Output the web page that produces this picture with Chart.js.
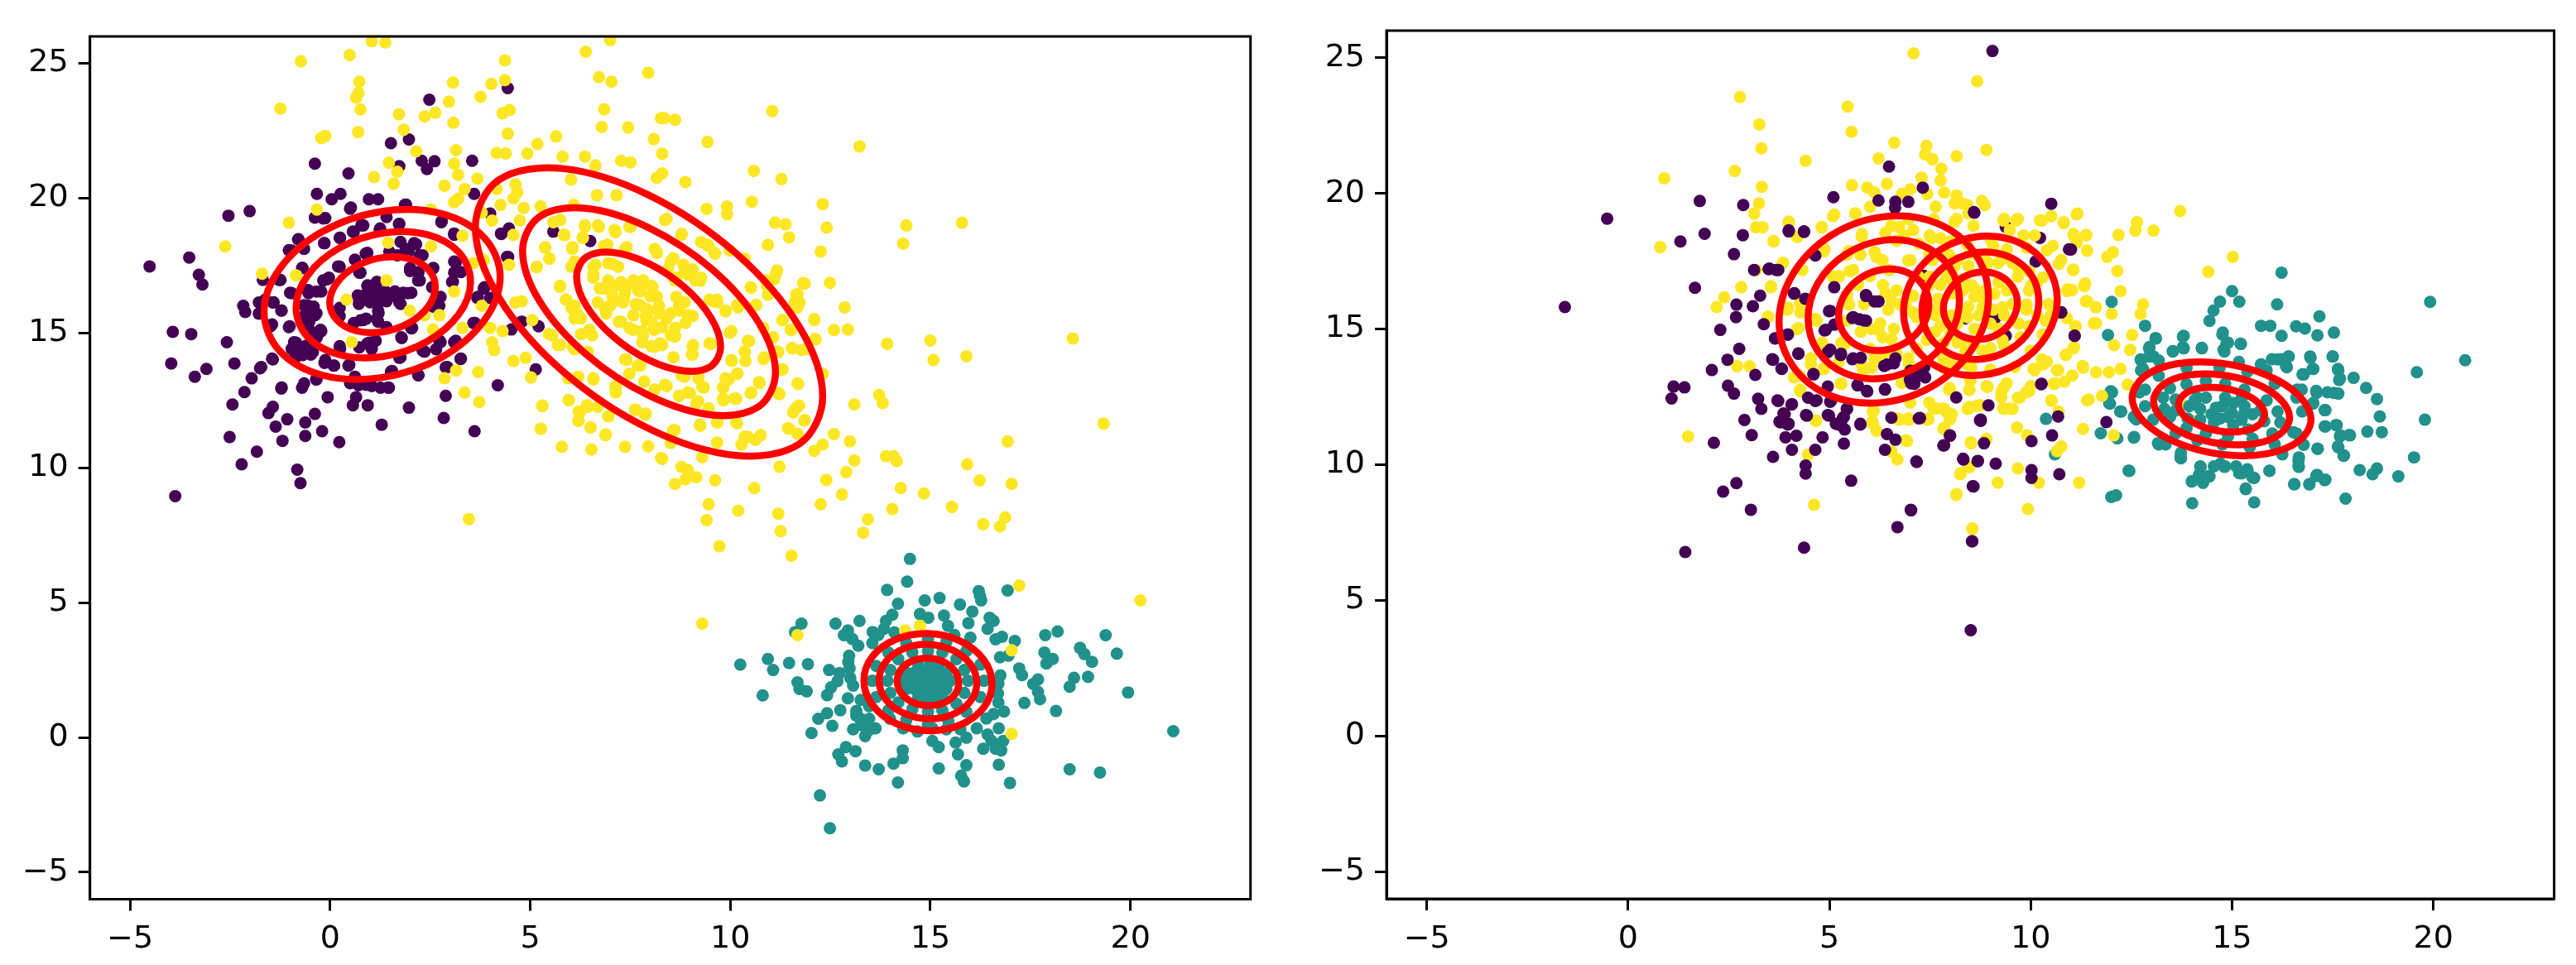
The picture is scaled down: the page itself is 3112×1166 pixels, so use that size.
<!DOCTYPE html>
<html>
<head>
<meta charset="utf-8">
<title>Clusters and fitted contours</title>
<script src="https://cdn.jsdelivr.net/npm/chart.js@4/dist/chart.umd.min.js"></script>
<style>
    html, body { margin: 0; padding: 0; background: #ffffff; }
    canvas { position: absolute; top: 0; }
    #leftChart { left: 0; }
    #rightChart { left: 1560px; }
</style>
</head>
<body>
<canvas id="leftChart" width="1560" height="1166"></canvas>
<canvas id="rightChart" width="1552" height="1166"></canvas>
<script>
// Tick labels, same on both panels
const xTicks = [-5, 0, 5, 10, 15, 20];
const yTicks = [-5, 0, 5, 10, 15, 20, 25];

// Left panel points as [x, y]
const leftPurple = [[-4.51,17.47],[-3.52,17.8],[-3.28,17.16],[-3.19,16.8],[-2.54,19.35],[-2.01,19.52],[-.38,21.28],[.46,20.92],[1.52,22.04],[1.97,22.18],[2.48,23.65],[4.44,24.08],[1.73,21.19],[2.29,21.39],[2.61,21.37],[2.42,21.08],[3.55,21.39],[-.33,20.16],[.04,19.96],[.26,20.16],[.97,19.96],[1.2,19.96],[.5,19.61],[1.87,19.75],[-.38,19.28],[-.12,19.26],[3.6,20.16],[2.78,19.11],[1.73,19.05],[.78,18.99],[.57,18.76],[-.8,18.47],[.25,18.53],[-.15,18.33],[3.1,18.64],[4.28,18.67],[4.47,18.88],[5.58,18.76],[6.5,18.41],[4.42,17.82],[4,19.43],[1.25,18.88],[-.96,18.06],[1.89,18.12],[2.15,18.29],[1.68,17.88],[2.31,17.88],[3.1,17.65],[3.1,17.24],[.2,17.47],[-.7,17.41],[.73,17.24],[.89,17.94],[-1.68,16.97],[-1.28,16.97],[-.06,17],[-.96,16.48],[-.54,16.48],[-.22,16.54],[2,17.3],[2.2,16.95],[3.05,16.89],[3.84,16.65],[3.68,16.3],[4,16.3],[.94,16.77],[1.15,16.83],[.89,16.42],[1.26,16.48],[1.62,16.54],[1.94,16.48],[.73,16.18],[1.1,16.18],[1.41,16.18],[1.73,16.13],[1.2,15.83],[.83,15.48],[1.2,15.42],[2.73,16.01],[-2.17,16.01],[-2.12,15.78],[-1.78,16.13],[-1.78,15.72],[-1.43,16.13],[-1.22,15.83],[-1.49,15.25],[-1.01,15.25],[-.54,16.01],[-.38,15.66],[-.59,15.37],[-.49,15.07],[-.22,15.07],[-.33,14.84],[-3.93,15.04],[-3.47,14.96],[-2.58,14.66],[-3.97,13.87],[-2.39,13.87],[-3.09,13.67],[-3.38,13.38],[-1.75,13.69],[-1.43,14.02],[-1.96,13.32],[-.85,14.64],[-.59,14.53],[-.96,14.41],[-.69,14.18],[-.43,14.29],[-.12,14],[.09,13.79],[.46,13.79],[.25,14.41],[.73,14.47],[.99,14.64],[1.04,14.41],[1.78,14.84],[1.73,14.08],[2.36,14.31],[2.73,14.72],[3.1,14.66],[3.26,14.04],[2.89,13.73],[2.2,13.43],[1.52,13.57],[2.05,15.19],[3.58,15.37],[4.53,15.13],[5.21,15.25],[4.79,15.42],[5.14,13.65],[4.19,13.06],[2.89,12.67],[2.84,11.85],[3.61,11.36],[1.97,12.23],[1.29,11.6],[.94,12.32],[.57,12.32],[.65,12.62],[-.06,12.62],[-1.22,12.94],[-2.14,12.81],[-2.44,12.35],[-.7,12.97],[-.35,13.28],[.5,13.14],[.71,13.06],[1.04,13.03],[1.26,12.97],[1.47,12.97],[-1.43,12.26],[-1.54,12.03],[-.38,12],[-1.07,11.8],[-1.36,11.53],[-.62,11.68],[-.2,11.36],[-.62,11.18],[-1.19,11],[.23,10.95],[-2.51,11.14],[-1.83,10.6],[-2.21,10.13],[-.82,9.93],[-.74,9.43],[-3.87,8.95]];

const leftPurpleDense = [[.93,16.75],[1.17,16.9],[.69,16.39],[.9,16.44],[1.14,16.49],[1.38,16.54],[1.62,16.54],[1.83,16.49],[2.03,16.49],[.72,16.08],[1,16.14],[1.21,16.14],[1.48,16.34],[1.76,16.08],[1.21,15.73],[1.17,15.53],[.76,15.47],[.59,15.37],[.9,15.53],[.24,15.93],[.24,15.63],[.76,17.24],[2,17.41],[2.21,17.26],[2.24,16.95],[2.58,17.41],[2.55,16.7],[-.03,17.05],[-.17,16.95],[.24,17.46],[-.34,16.54],[-.55,16.59],[-.69,17.41],[-1.24,16.97],[-1,16.49],[-1.21,15.83],[-1.41,16.14],[-.65,16.03],[-.41,15.98],[-.62,15.68],[-.34,15.73],[-.52,15.42],[-.24,15.12],[-.41,14.91],[-1.03,15.22],[-1.45,15.32],[-1.62,16.24],[-.9,14.66],[-.69,14.4],[-.48,14.2],[-.86,14.1],[-1.45,14.05],[-1.72,13.74],[-.14,13.89],[.1,13.79],[.48,13.82],[.24,14.51],[.93,14.61],[1.14,14.71],[1.79,14.81],[2.03,15.17],[1.41,15.22],[1.76,14.1],[2.31,14.35],[2.65,14.4],[2.76,14.66],[3.14,14.71],[3.27,14.05],[2.93,13.74],[2.21,13.44],[1.55,13.59],[.62,13.38],[.9,13.08],[.55,13.18],[1.45,12.98],[-.65,13.13],[-.34,13.28],[-1.21,12.98],[3.62,15.37],[3.86,16.7],[3.69,16.34],[2.76,16.34],[2.58,15.98],[3.07,16.9],[3.14,17.61],[3.27,17.26],[2.24,17.87],[1.96,18.02],[2.1,18.33],[1.76,18.38],[1.48,18.02],[.93,17.97],[.62,17.72],[.24,18.53],[-.14,18.33],[-.79,18.48],[-.65,18.12],[-1.03,18.07],[.59,18.74],[.83,18.99],[1.24,18.84],[1.72,19.04],[1.41,19.3],[-.17,19.25],[.52,19.65],[1.9,19.76],[2.79,19.14],[3.1,18.69],[4.27,18.69],[4.45,17.82]];

const leftTeal = [[14.49,6.62],[14.42,5.78],[13.92,5.47],[16.93,5.45],[16.21,5.43],[16.24,5.25],[16.27,5.08],[14.86,5.08],[15.23,5.17],[14.19,4.96],[15.74,4.93],[16.05,4.67],[14.74,4.58],[15.34,4.52],[14.95,4.44],[14.05,4.55],[13.89,4.32],[13.84,4.03],[13.23,4.32],[12.63,4.22],[11.78,4.22],[11.62,3.91],[15.95,4.24],[15.44,4.14],[16.48,4.44],[16.58,4.32],[16.43,4.03],[12.94,3.97],[12.84,3.79],[13.05,3.65],[13.56,3.91],[13.55,3.5],[17.87,3.79],[18.18,3.93],[19.38,3.79],[16.63,3.64],[16.79,3.73],[17.11,3.58],[17.85,3.15],[18.74,3.32],[18.85,3.09],[19.04,2.8],[19.66,3.11],[18.06,2.91],[17.9,2.74],[16.74,2.97],[16.95,3.03],[12.97,3.03],[12.98,2.56],[10.94,2.91],[11.47,2.76],[11.94,2.72],[10.25,2.7],[11.07,2.5],[12.47,2.5],[12.73,2.39],[17.22,2.56],[17.29,2.31],[18.59,2.21],[18.48,1.88],[18.94,2.25],[17.69,2.15],[17.57,1.98],[11.68,2.04],[11.73,1.8],[11.91,1.71],[12.52,1.86],[12.42,1.57],[12.68,2.09],[13.07,1.92],[10.81,1.56],[17.69,1.69],[17.74,1.42],[17.35,1.28],[16.69,1.63],[19.94,1.67],[18.14,.98],[16.84,.96],[16.58,.87],[12.94,1.45],[13.26,1.39],[13.47,1.16],[12.75,1.01],[13.15,.98],[13.26,.69],[12.42,.9],[12.2,.69],[12.55,.43],[12.03,.16],[13.07,.3],[13.47,.28],[13.63,.34],[13.37,.05],[16.16,.34],[16.71,.34],[14.32,.34],[14.68,.22],[16.43,.11],[16.53,-.13],[15.9,-.01],[15.63,-.19],[15.05,-.13],[15.21,-.36],[16.82,-.13],[16.63,-.42],[16.77,-.48],[16.32,-.42],[15.69,-.63],[12.89,-.36],[13.13,-.51],[12.7,-.63],[12.79,-.89],[14.31,-.48],[14.31,-.77],[14.08,-.97],[13.37,-1.04],[13.71,-1.18],[15.21,-1.15],[15.9,-1.03],[16.71,-1.01],[18.48,-1.18],[19.24,-1.3],[15.77,-1.42],[15.84,-1.63],[14.19,-1.67],[16.99,-1.69],[21.07,.23],[12.24,-2.15],[12.49,-3.37]];

const leftTealDense = [[14.7,2.7],[15,2.7],[15.2,2.7],[14.4,2.4],[14.6,2.4],[14.8,2.4],[15,2.4],[15.2,2.4],[15.4,2.4],[14.3,2.1],[14.5,2.1],[14.7,2.1],[14.9,2.1],[15.1,2.1],[15.3,2.1],[15.5,2.1],[14.4,1.8],[14.6,1.8],[14.8,1.8],[15,1.8],[15.2,1.8],[15.4,1.8],[14.7,1.5],[14.9,1.5],[15.1,1.5],[15.3,1.5],[15.94,2.1],[15.85,2.5],[15.65,2.9],[15.3,3.15],[14.94,3.2],[14.55,3.15],[14.2,2.9],[14,2.5],[13.93,2.1],[14,1.65],[14.2,1.3],[14.55,1.05],[14.94,.95],[15.3,1],[15.65,1.25],[15.85,1.65],[16.34,2.1],[16.25,2.7],[15.9,3.2],[15.4,3.55],[14.94,3.65],[14.4,3.5],[13.95,3.15],[13.65,2.65],[13.55,2.1],[13.65,1.5],[13.95,1],[14.4,.65],[14.94,.47],[15.45,.6],[15.9,.95],[16.25,1.5],[13.15,.81],[13.47,.69],[13.26,.46],[13.99,.69],[14.37,.46],[15.05,.34],[15.4,.3],[15.75,.3],[16.7,2],[16.75,2.3],[16.7,1.3],[16.4,.7],[12.95,2.8],[13,2.2],[13.2,3.4],[13.7,3.8],[14.1,3.9],[15.6,3.8],[16,3.7]];

const leftYellow = [[1.04,25.82],[1.38,25.78],[.49,25.31],[-.73,25.08],[7,25.86],[6.39,25.43],[4.37,25.11],[4.37,24.38],[4.03,24.24],[3.07,24.29],[6.72,24.49],[7.03,24.32],[7.95,24.65],[.73,24.32],[.71,23.9],[.65,23.73],[3.76,23.76],[2.97,23.58],[-1.24,23.32],[.76,23.29],[6.85,23.3],[2.63,23.17],[2.36,23.03],[4.31,23.15],[4.49,23.27],[1.72,23.11],[3.08,22.8],[8.27,22.97],[6.79,22.64],[7.45,22.62],[1.84,22.54],[.7,22.45],[4.44,22.39],[-.12,22.31],[-.22,22.23],[5.65,22.29],[8.09,22.19],[5.18,22.01],[2.15,21.74],[3.15,21.78],[4.16,21.68],[4.39,21.66],[4.93,21.66],[6.37,21.54],[5.81,21.54],[7.27,21.39],[7.51,21.33],[6.63,21.22],[1.47,21.31],[3.1,21.28],[1.68,20.98],[3.2,20.87],[1.1,20.78],[3.68,20.73],[6.02,20.69],[1.59,20.54],[8.16,20.75],[2.86,20.46],[3.36,20.34],[4.63,20.51],[4.68,20.22],[4.58,19.99],[4.16,20.34],[3.1,19.85],[3.2,19.98],[6.67,20.11],[7.16,20.11],[-.33,19.58],[-1.03,19.09],[-2.62,18.21],[2.52,19.58],[4.05,19.17],[3.79,19.46],[4.26,19.75],[4.84,19.64],[5.26,19.7],[6.09,19.75],[4.74,19.17],[4.58,18.64],[3.31,18.61],[5.58,19.11],[5.84,18.64],[6.37,18.94],[6.69,18.99],[7.11,18.82],[7.48,18.94],[6.32,18.53],[1.45,18.35],[2.52,18.21],[5.37,18.17],[5.48,17.76],[6.05,18.12],[6.11,17.65],[5.16,17.44],[6.85,18.23],[7.37,18.12],[8.11,18.12],[-1.7,17.2],[-.85,17.14],[3.58,17.59],[3.84,17.71],[4.47,17.53],[6.63,17.53],[6.95,17.59],[6.58,17.18],[6.95,16.95],[7.27,16.89],[7.58,16.95],[7.8,16.83],[8.06,16.71],[6.74,16.65],[7.06,16.36],[7.37,16.48],[7.69,16.59],[8,16.36],[8.22,16.01],[6.69,16.13],[7,16.01],[7.32,16.13],[7.64,16.07],[7.9,15.89],[6.9,15.72],[7.22,15.42],[7.58,15.66],[7.9,15.48],[8.16,15.19],[7.8,15.07],[7.48,15.19],[7.8,14.66],[8.11,14.49],[7.37,14.02],[7.69,13.79],[7.48,13.49],[7.85,13.2],[8.11,12.91],[5.74,16.71],[5.9,16.24],[6.11,16.01],[6.27,15.54],[6.48,15.07],[6.11,15.54],[5.47,14.96],[5.69,14.55],[6.27,14.96],[6.11,14.4],[4.63,16.13],[4.79,16.18],[3.79,16.01],[3.1,16.54],[.41,16.24],[1.41,16.95],[1.99,15.83],[2.36,15.66],[2.73,15.66],[2.57,15.13],[3.31,15.19],[4,15.19],[4.31,15.07],[.54,14.66],[4.05,14.66],[4.1,14.37],[5.05,15.48],[4.89,14.08],[4.58,13.96],[3.15,13.61],[2.86,13.32],[3.7,13.55],[5.02,13.35],[3.36,12.79],[3.73,12.44],[5.95,13.32],[6.58,13.32],[7.14,13.03],[7.14,12.79],[5.97,12.5],[5.3,12.29],[6.42,12.32],[6.21,12.09],[6.21,11.74],[6.51,11.5],[6.95,11.91],[7.64,12.15],[7.87,11.97],[5.26,11.45],[6.88,11.21],[5.79,10.78],[6.53,10.68],[7.37,10.78],[7.95,10.8],[8.27,10.36],[3.47,8.1],[8.35,22.97],[8.62,22.91],[11.05,23.23],[9.43,22.09],[13.23,21.92],[8.3,21.65],[10.59,21.01],[11.28,20.71],[8.88,20.6],[8.3,20.92],[10.54,19.87],[12.31,19.78],[9.41,19.6],[9.92,19.69],[9.92,19.4],[8.41,19.23],[11.12,19.09],[11.38,19.03],[14.4,18.99],[15.79,19.09],[12.41,18.91],[11.47,18.55],[8.78,18.64],[9.27,18.37],[9.46,18.23],[9.62,17.94],[10.94,18.27],[14.32,18.31],[12.26,18.02],[9.99,18.06],[10.36,17.76],[8.51,17.65],[8.94,17.17],[9.25,16.94],[8.83,17.53],[8.62,16.95],[11.17,17.32],[11.86,16.83],[12.49,16.86],[10.89,16.95],[11.1,17],[10.52,16.68],[11.65,16.44],[10.94,16.42],[9.57,16.19],[9.67,16.24],[11.73,16.13],[11.68,15.95],[12.86,15.95],[10.64,16.03],[9.88,15.8],[10.2,15.95],[11.31,15.48],[12.1,15.48],[12.59,15.11],[12.94,15.13],[11.52,15.11],[8.72,16.01],[8.94,15.66],[8.41,15.54],[8.62,15.19],[8.88,15.37],[9.99,15.01],[10.83,15.19],[11.07,14.84],[12.12,14.78],[10.47,14.7],[8.62,14.87],[9.07,14.55],[9.52,14.6],[8.3,14.55],[13.92,14.6],[15,14.72],[18.56,14.8],[11.55,14.43],[11.78,14.37],[11.17,14.31],[10.36,14.31],[10.83,14.04],[15.08,14],[15.9,14.14],[9.04,14.2],[10.04,13.96],[10.38,13.96],[11.31,13.65],[12.31,13.49],[10.18,13.49],[9.88,13.32],[8.78,13.43],[9.2,13.32],[11.7,13.11],[9.3,13],[8.41,13.03],[10.73,13.14],[9.83,12.97],[10.52,12.79],[13.72,12.7],[13.81,12.4],[8.72,12.67],[8.94,12.79],[11.23,12.73],[13.1,12.35],[9.83,12.5],[10.15,12.56],[9.15,12.38],[9.46,12.21],[11.68,12.26],[11.57,12.05],[11.86,11.77],[9.67,11.68],[10.15,11.68],[9.25,11.56],[19.33,11.64],[11.44,11.47],[8.57,11.39],[10.76,11.21],[10.36,11.15],[10.63,11.04],[12.59,11.25],[11.68,11.27],[12.99,10.98],[16.93,10.98],[9.67,10.94],[8.51,10.92],[12.31,10.86],[12.1,10.63],[10.28,10.86],[8.3,10.33],[9.3,10.39],[13.89,10.43],[14.08,10.43],[14.16,10.25],[13.1,10.27],[15.92,10.13],[11.23,10.04],[12.9,9.84],[8.78,10.04],[8.94,9.92],[8.62,9.4],[8.88,9.57],[9.15,9.65],[9.62,9.54],[10.6,9.25],[12.4,9.55],[16.23,9.53],[17.03,9.4],[14.26,9.25],[14.84,9.05],[12.79,9.01],[9.46,8.65],[9.41,8.06],[10.2,8.41],[11.2,8.3],[12.26,8.65],[14.05,8.47],[13.44,8.09],[15.54,8.55],[16.32,7.91],[16.74,7.83],[16.87,8.16],[11.26,7.65],[13.32,7.59],[9.73,7.09],[11.53,6.74],[17.22,5.63],[20.25,5.08],[9.3,4.22],[11.68,3.79],[17.03,3.23],[17.03,.13],[14.74,4.14],[14.37,3.97]];

const leftYellowDense = [[6.58,17.46],[6.58,17.05],[7.06,17.56],[7.2,17.46],[6.86,16.65],[7.13,16.75],[7.41,16.75],[7.82,16.95],[7.75,16.54],[8.03,16.75],[8.17,16.34],[7.06,16.14],[6.86,15.93],[7.34,16.24],[6.17,15.73],[6.03,15.93],[5.89,16.24],[5.75,16.75],[7.75,16.03],[7.96,15.83],[8.24,15.73],[8.51,15.73],[8.72,15.83],[8.86,16.14],[8.65,16.34],[9.06,15.63],[8.3,15.22],[8.03,15.42],[7.89,15.63],[7.27,15.42],[7.58,15.12],[7.82,14.91],[8.1,15.12],[8.51,14.91],[8.24,14.61],[8.03,14.51],[9.06,14.51],[9.48,14.61],[9.06,14.2],[8.58,14.1],[7.41,14],[7.75,13.79],[8.86,13.38],[8.37,13.08],[9.2,13.38],[9.34,12.98],[8.72,12.67],[8.99,12.77],[9.2,12.47],[9.82,12.98],[9.96,13.28],[10.17,13.49],[9.82,12.57],[10.1,12.57],[10.51,12.77],[10.72,13.18],[10.03,14],[10.44,14.71],[10.37,14.3],[10.85,14.1],[11.27,13.64],[11.68,13.13],[11.2,12.77],[10.03,15.07],[9.48,16.24],[9.68,16.14],[9.89,15.83],[10.17,16.03],[10.65,16.03],[10.51,16.7],[10.92,16.75],[11.13,17.16],[8.58,17.77],[8.17,17.97],[8.79,18.68],[8.44,17.36],[8.86,17.26],[9.13,16.95],[9.27,17.05],[8.65,17.05],[9.06,17.36],[9.41,18.28],[9.61,17.97],[7.41,18.18],[6.93,18.28],[6.06,18.18],[5.38,18.18],[5.48,17.77],[5.17,17.46],[6.03,17.46],[5.75,19.19],[6.37,18.99],[6.72,18.94],[7.13,18.74],[7.51,18.94],[8.37,19.19],[5.86,18.63],[6.31,18.53],[7.13,12.98],[6.58,13.28],[6.2,13.38],[5.96,12.52],[5.31,12.31],[6.44,12.26],[6.24,12.06],[6.69,12.26],[7.62,12.16],[7.89,12.01],[6.96,11.91],[6.51,11.5],[6.2,11.75],[5.27,11.45],[6.89,11.24],[9.24,11.6],[9.68,11.7],[10.17,11.65],[8.61,11.4],[10.44,11.14],[11.47,11.45],[11.85,11.75],[11.61,12.16],[11.72,12.31],[12.13,14.76],[12.1,15.52],[11.51,15.12],[11.3,15.47],[11.54,14.45],[11.2,14.3],[11.89,14.4],[11.61,16.14],[11.68,16.44],[11.82,16.85],[6.48,15.12],[6.55,14.91],[5.55,14.91],[5.75,14.56],[6.06,14.51],[6.44,14.3]];

// Right panel points
const rightPurpleUnder = [[8.74,16.23],[9.11,15.39],[8.37,15.39],[9.38,14.75],[10.12,17.49],[10.23,18.36],[9.38,18.77],[7.35,16.96]];

const rightYellowUnder = [[13.77,12.22],[14.04,11.61]];

const rightTeal = [[16.23,17.08],[15,16.4],[14.7,16.01],[15.18,16.01],[16.12,15.91],[19.92,16],[14.54,15.68],[14.44,15.3],[12.01,16],[17.17,15.47],[15.72,15.12],[15.95,15.12],[16.59,15.1],[16.81,15.02],[12.84,15.12],[17.53,14.87],[17.12,14.77],[16.23,14.75],[14.77,14.87],[11.92,14.78],[13.78,14.72],[13.1,14.67],[15.21,14.46],[14.86,14.46],[14.81,14.17],[12.95,14.34],[13.78,14.34],[13.53,14.17],[14.25,14.31],[13.05,13.99],[12.73,13.88],[12.79,13.53],[20.79,13.85],[16.14,13.88],[16.41,13.99],[16.94,13.99],[17.5,13.99],[16.36,13.59],[17,13.53],[16.78,13.33],[15.72,13.7],[19.59,13.41],[17.63,13.53],[17.66,13.12],[18.02,13.2],[18.33,12.83],[18.6,12.42],[17.1,12.65],[17.53,12.65],[16.73,12.77],[17,12.25],[17.32,12.01],[18.67,11.78],[19.79,11.66],[11.99,12.71],[11.97,12.25],[12.25,11.96],[12.62,11.67],[11.74,11.16],[12.15,10.97],[10.38,11.69],[12.57,11.02],[10.6,10.38],[17.32,11.41],[17.58,11.46],[17.69,11.08],[17.93,11.08],[18.36,11.22],[18.72,11.2],[16.52,11.2],[17.12,10.59],[17.63,10.68],[17.77,10.33],[19.52,10.27],[16.66,10.27],[16.66,9.92],[18.17,9.8],[18.6,9.86],[18.49,9.65],[19.13,9.57],[15.93,9.77],[17.11,9.63],[17.32,9.45],[16.55,9.28],[16.92,9.28],[17.82,8.75],[15.55,8.61],[15.34,9.1],[14.01,8.58],[12,8.81],[12.45,9.77],[13.16,10.79],[13.72,10.27],[14.22,9.92],[14.22,9.45],[14.44,9.57],[14.01,9.4],[14.71,10.04],[14.81,9.92],[15.18,9.69],[15.39,9.74],[15.55,9.51],[16.25,10.38],[16.78,10.73]];

const rightTealDense = [[14.07,12.37],[14.35,12.47],[13.94,12.16],[14.21,12.06],[14.49,11.86],[14.76,12.16],[15.03,12.27],[15.31,12.16],[15.51,11.86],[15.24,11.66],[14.9,11.76],[14.55,11.56],[15.03,11.46],[14.21,11.66],[14.14,12.47],[14.83,12.47],[15.24,12.47],[14.6,12.1],[15,11.9],[15.3,11.9],[14.7,11.7],[13.29,12.47],[13.46,12.82],[13.87,12.97],[14.35,13.08],[14.83,12.98],[15.31,12.77],[15.86,12.37],[16.13,11.96],[16.2,11.56],[16,11.15],[15.51,10.95],[14.9,11.05],[14.35,11.15],[13.87,11.35],[13.46,11.76],[13.32,12.06],[13.6,12.4],[13.6,12],[13.9,11.7],[15.7,12],[15.8,11.6],[15.4,11.3],[12.84,12.77],[13.18,13.28],[13.87,13.58],[14.69,13.58],[15.38,13.43],[16.06,12.98],[16.6,12.47],[16.74,11.96],[16.6,11.15],[16.06,10.75],[15.44,10.65],[14.76,10.75],[14.14,10.9],[13.6,11.15],[13.04,11.66],[12.84,12.16],[12.7,12.67],[12.74,13.84],[12.94,14.29],[13.11,14.65],[13.53,14.19],[13.8,14.29],[13.8,14.75],[14.25,14.29],[14.79,14.24],[14.9,14.5],[15.22,14.45],[12.74,13.48],[12.94,13.99],[13.18,13.84],[14.76,14.8],[15.99,13.89],[16.23,13.89],[16.4,13.99],[16.34,13.64],[15.86,13.48],[15.17,13.79],[15.72,13.69],[16.95,13.94],[17.02,13.53],[16.75,13.33],[17.5,13.99],[17.64,13.48],[17.68,13.18],[17.09,12.72],[17.37,12.67],[17.64,12.62],[17.3,12.01],[17.02,12.27],[16.61,12.77],[17.3,11.41],[17.6,11.46],[17.68,11.05],[17.91,11.1],[17.64,10.64],[17.78,10.34],[17.13,10.59],[16.65,10.14],[16.65,9.94],[17.09,9.58],[17.3,9.43],[16.92,9.28],[16.54,9.28],[15.93,9.78],[15.34,9.12],[15.51,9.53],[15.24,9.68],[15.38,9.83],[15.1,9.94],[14.83,9.94],[14.55,9.94],[14.21,9.94],[14.18,9.63],[14.42,9.58],[14,9.38],[14.28,9.33],[13.73,10.24],[13.73,10.44],[13.18,10.75],[13.35,10.75],[12.56,11],[12.43,9.78],[12.12,8.87],[12.02,12.67],[11.95,12.27],[12.22,11.96],[12.56,11.76]];

const rightYellow = [[7.09,25.16],[8.67,24.13],[2.78,23.55],[5.45,23.2],[3.26,22.54],[5.55,22.27],[3.31,21.66],[6.61,21.87],[7.41,21.75],[7.38,21.43],[7.56,21.26],[8.16,21.37],[8.9,21.6],[6.22,21.29],[4.41,21.2],[2.65,20.83],[.9,20.56],[7.78,20.91],[7.76,20.48],[7.29,20.58],[5.56,20.3],[3.32,20.24],[5.94,20.21],[6.12,20.03],[6.43,20.35],[6.8,19.98],[7.01,20.15],[7.43,19.98],[7.85,20.03],[8.16,19.92],[8.79,19.72],[6.01,19.51],[7.64,19.51],[8.11,19.63],[8.43,19.57],[3.25,19.63],[3.13,19.26],[5.12,19.22],[5.65,19.26],[3.99,18.93],[3.18,18.75],[3.34,18.75],[4.81,18.75],[6.54,18.81],[6.96,19.05],[7.59,19.05],[8.16,19.05],[8.58,18.81],[4.21,18.41],[3.62,18.23],[.8,18.02],[5.8,18.41],[5.49,17.88],[6.17,17.65],[6.85,18.46],[7.53,18.35],[8.01,18.23],[8.43,18.11],[4.86,17.86],[3.84,17.42],[3.18,17.18],[4.33,17.18],[5.23,16.95],[5.59,17.18],[6.01,16.95],[6.48,17.18],[6.96,17.53],[7.48,17.76],[3.55,16.54],[2.81,16.54],[2.39,16.17],[2.2,15.81],[3.47,15.44],[3.97,15.79],[4.28,15.61],[4.23,15.03],[4.65,15.38],[5.44,16.27],[5.86,15.92],[6.33,16.62],[6.54,16.04],[5.49,15.9],[6.22,14.97],[6.54,14.62],[6.9,15.9],[7.17,15.44],[7.48,16.62],[7.9,16.85],[8.22,16.27],[8.53,16.62],[8.79,16.15],[7.69,15.79],[8.01,15.32],[8.43,15.44],[8.69,14.97],[7.48,14.85],[7.85,14.5],[8.32,14.62],[4.81,14.45],[5.38,14.45],[6.01,14.27],[6.54,14.16],[6.96,13.92],[4.54,13.92],[4.86,13.52],[5.8,13.69],[6.12,13.92],[7.17,14.27],[7.9,13.92],[8.43,13.69],[7.85,13.57],[2.71,13.63],[3.02,13.63],[4.12,13.22],[4.28,12.7],[5.28,12.99],[6.8,13.02],[7.99,12.82],[8.48,12.76],[7.01,12.29],[7.48,12.29],[7.85,12.06],[8.01,11.71],[8.43,12.06],[8.74,12.18],[6.1,12],[6.07,11.59],[6.17,11.25],[6.69,11.71],[6.96,11.71],[7.43,11.69],[4.67,11.63],[7.85,11.36],[1.49,11.04],[6.9,10.9],[8.51,10.82],[8.9,10.95],[6.54,10.49],[6.69,10.2],[4.47,10.37],[8.48,9.91],[8.25,9.65],[8.16,8.92],[4.62,8.52],[8.55,7.64],[13.71,19.35],[11.14,19.23],[12.64,18.94],[12.6,18.63],[13.05,18.63],[12.18,18.47],[11.38,18.47],[10.82,18.94],[10.28,19],[9.64,19],[9.32,19],[11.08,18.42],[11.14,18.19],[10.55,18.07],[11.4,17.89],[12.04,17.83],[11.9,17.66],[15.02,17.66],[14.41,17.11],[10.76,17.55],[11.05,17.19],[12.15,17.14],[11.35,16.68],[11.03,16.44],[12.23,16.4],[11.4,16.03],[11.62,15.8],[12.79,15.91],[12.73,15.56],[12.01,15.56],[11.62,15.21],[11.11,15.1],[12.52,14.78],[12.07,14.4],[12.47,14.23],[11.08,14.34],[10.87,14.05],[10.28,13.88],[10.07,13.53],[11.29,13.64],[11.62,13.41],[11.94,13.41],[12.23,13.53],[10.68,13.49],[11.03,13.29],[10.84,13.06],[12.41,12.95],[10.6,13],[9.96,12.71],[9.73,12.48],[9.32,12.83],[9.27,12.48],[11.44,12.4],[11.77,12.54],[10.52,12.36],[9.32,12.07],[9.48,12.07],[8.47,12.13],[8.74,12.19],[7.99,12.76],[8.47,12.76],[8.9,12.89],[10.69,11.96],[7.67,12.07],[7.94,11.9],[7.99,11.67],[7.46,11.67],[7.83,11.32],[11.3,11.32],[9.66,11.37],[9.91,11.08],[12.06,11.08],[6.93,10.87],[8.52,10.79],[8.9,10.94],[10.76,10.67],[10.65,10.5],[8.45,9.92],[8.26,9.69],[9.68,9.86],[9.18,9.34],[10.2,9.34],[11.2,9.34],[8.15,8.89],[9.93,8.37],[8.55,7.65]];

const rightYellowDense = [[8.9,17.5],[9.3,17.6],[9.7,17.2],[10,16.6],[9.9,15.9],[9.7,15.2],[9.3,14.6],[8.8,14.2],[8.4,14.2],[8,14.8],[8.3,15.5],[8.6,16.2],[8.8,15.8],[9.1,16.3],[9.3,15.8],[9,15.2],[8.6,15],[8.4,16.6],[8.1,17.3],[8.5,17.8],[9,18.3],[9.9,18],[10.4,17.9],[10.3,16.9],[10.5,15.5],[10.3,14.8],[10,14.2],[9.6,13.6],[9,13.5],[8.5,13.1],[9.4,13],[10,12.9],[10.4,13.8],[10.9,15.4],[10.9,16.4],[10.7,17.4],[5.43,16.12],[5.71,16.63],[5.43,15.31],[6.12,16.02],[6.39,16.32],[6.67,16.42],[6.46,15.71],[6.74,15.92],[6.26,15.21],[6.6,15],[6.32,14.7],[5.78,14.9],[6.05,15],[5.23,16.93],[5.5,17.13],[5.77,17.74],[6.12,17.84],[6.32,17.54],[5.43,17.74],[7.01,17.54],[6.67,18.25],[6.39,18.55],[6.73,18.76],[7.08,18.65],[7.49,18.45],[7.76,18.35],[7.22,18.15],[5.09,16.93],[4.88,17.94],[5.81,18.5],[3.99,18.96],[4.81,18.76],[5.09,19.16],[5.64,19.26],[4.2,18.4],[3.61,18.25],[3.85,17.44],[3.55,16.58],[4.27,15.96],[3.96,15.71],[3.48,15.46],[4.2,15],[4.68,15.31],[4.82,14.5],[5.3,14.5],[5.23,13.79],[4.54,13.69],[4.27,13.28],[4.85,13.53],[5.3,12.98],[4.27,12.77],[6.05,13.58],[5.84,13.48],[6.32,13.89],[6.67,14.09],[6.98,13.69],[6.8,13.03],[7.42,14.6],[7.76,14.4],[8.18,14.5],[8.38,14.19],[7.83,13.89],[8.04,13.69],[8.52,13.58],[7.08,16.22],[7.08,15.61],[7.49,16.93],[7.76,16.63],[7.7,16.12],[7.63,15.51],[7.76,15.11],[7.63,14.9],[7.35,15.41],[7.9,17.13],[8.18,17.54],[8.45,17.34],[8.66,17.74],[8.93,17.44],[9.2,17.44],[9.55,17.44],[9.41,17.94],[9.07,18.05],[9.68,16.93],[9.96,16.42],[10.16,16.73],[9.96,17.13],[9.89,15.71],[10.16,15.51],[10.44,15.92],[10.37,15.31],[9.96,15.11],[9.75,14.7],[9.34,14.4],[9,14.29],[8.59,14.5],[8.18,15.21],[8.31,16.42],[8.59,16.52],[8.86,16.42],[9.2,16.73],[9.41,16.42],[8.45,15.82],[8.72,15.51],[9.07,15.71],[9.34,15.51],[9.55,15.92],[8.31,16.83],[7.97,17.74],[7.56,17.54],[7.22,16.93],[8.04,16.32],[8.04,15.51],[9.2,15],[8.45,19.26],[8.11,18.96],[8.31,19.62],[8.86,19.57],[9.34,19.06],[9.68,19.06],[9.48,18.65],[10.23,19.01],[10.51,19.16],[10.82,18.91],[9.82,18.45],[10.1,18.45],[11.16,19.26],[11.06,18.5],[11.37,18.45],[11.06,17.18],[10.92,16.47],[11.33,16.58],[11.37,16.02],[11.57,15.21],[11.12,15.1],[11.06,14.29],[10.88,14.04],[10.3,13.69],[10.1,13.48],[10.65,13.48],[11.3,13.58],[10.57,12.98],[11.4,12.37],[10.51,12.37],[9.89,12.67],[9.68,12.47],[9.27,12.67],[8.93,12.87],[9.34,12.06],[9.55,12.06],[7.83,12.06],[8.04,11.86],[8.45,12.06],[8.66,12.17],[7.42,11.66],[6.74,11.66],[6.97,11.66],[6.08,11.96],[6.08,11.51],[4.67,11.61],[7.97,12.77],[7.59,12.06]];

const rightPurple = [[-1.57,15.81],[-.52,19.07],[1.78,19.72],[2.86,19.57],[1.9,18.51],[1.3,18.23],[2.85,18.46],[3.99,18.64],[4.37,18.58],[2.63,17.76],[3.13,17.18],[3.49,17.21],[3.73,17.18],[1.66,16.52],[4.65,17.71],[6.48,20.99],[5.1,19.86],[6.22,19.74],[6.64,19.69],[6.96,19.69],[7.32,20.21],[5.12,16.54],[4.12,16.31],[3.28,16.23],[2.69,15.9],[3.1,15.84],[2.68,15.44],[3.37,15.18],[2.29,14.97],[3.97,14.8],[3.65,14.66],[2.76,14.27],[4.23,14.1],[3.6,13.87],[3.81,13.54],[2.47,13.87],[2.08,13.49],[3.16,13.31],[5.02,15.67],[4.91,14.97],[5.59,15.44],[5.86,15.32],[5.91,16.25],[6.22,16.02],[4.96,14.15],[5.28,14.04],[5.59,13.92],[6.64,13.92],[6.43,13.69],[7.27,13.46],[7.11,13.17],[7.38,13.22],[7.01,13.46],[4.6,13.34],[4.96,12.88],[1.13,12.88],[1.4,12.85],[1.08,12.44],[2.48,12.91],[2.63,12.62],[3.23,12.43],[3.31,12.06],[3.73,12.35],[4.07,12.23],[4.65,12.35],[5.04,12.35],[5.7,12.93],[5.94,12.7],[6.38,12.78],[2.89,11.65],[3.07,11.09],[3.86,11.89],[3.76,11.59],[3.97,11.48],[4.42,11.83],[4.96,11.83],[5.44,12.06],[5.33,11.71],[5.23,11.48],[5.38,11.3],[5.77,11.48],[6.54,11.73],[7.22,11.71],[8.76,11.62],[2.13,10.81],[3.91,11.01],[4.18,11.07],[4.83,11.01],[5.36,10.78],[6.43,11.13],[6.64,10.92],[4.07,10.55],[4.65,10.55],[6.38,10.55],[7.85,10.72],[8,11.07],[3.6,10.29],[7.17,10.1],[8.32,10.22],[8.69,10.14],[4.41,9.97],[4.41,9.67],[5.54,9.41],[2.69,9.32],[2.36,9.01],[8.56,9.21],[3.05,8.34],[1.42,6.78],[4.37,6.94],[7.02,8.34],[6.69,7.7],[8.54,7.18],[8.51,3.9],[9.05,25.25],[8.6,19.29],[11,17.93],[10.76,15.62],[11.09,14.75],[10.26,12.97],[7.19,13.29],[7.03,13],[7.35,13.59],[8.15,12.48],[8.95,12.19],[8.74,11.64],[7.25,11.72],[10.68,11.78],[11.88,11.57],[7.99,11.08],[10.02,10.87],[10.53,11.08],[7.83,10.71],[8.84,10.79],[8.33,10.19],[8.68,10.13],[9.13,10.04],[7.16,10.12],[10.02,9.8],[10.02,9.51],[10.71,9.65],[8.58,9.2],[7.03,8.32],[8.55,7.18]];

const rightPurpleDense = [[3.51,17.23],[3.68,17.18],[3.99,18.6],[4.37,18.6],[4.13,16.32],[4.4,16.12],[4.99,15.66],[5.74,15.36],[5.57,15.41],[5.91,15.31],[5.91,16.22],[6.12,16.02],[4.88,14.95],[5.12,15.16],[3.65,14.65],[3.96,14.8],[4.23,14.09],[3.58,13.89],[3.82,13.53],[5.02,14.24],[5.29,14.09],[5.57,13.89],[5.78,13.94],[7.22,13.38],[7.35,13.58],[7,13.13],[7.11,12.98],[6.6,13.74],[6.36,13.64],[4.61,13.33],[5.7,12.93],[5.93,12.72],[6.38,12.77],[4.47,12.47],[4.68,12.37],[5.02,12.32],[3.71,12.37],[4.06,12.22],[3.89,11.86],[3.79,11.56],[3.99,11.51],[4.44,11.81],[4.99,11.81],[5.43,12.06],[5.36,11.76],[5.29,11.46],[5.16,11.51],[5.77,11.51],[8.76,11.66],[10.27,12.98],[11.09,14.75],[10.75,15.61],[10.95,17.94],[10.51,19.62],[8.59,19.31],[6.63,19.47]];

// Red contours read point by point round each ellipse
const leftContours = [
    [[4.25,17.09],[3.85,18.54],[2.78,19.43],[1.3,19.51],[-.18,18.77],[-1.25,17.4],[-1.65,15.77],[-1.25,14.32],[-.18,13.43],[1.3,13.35],[2.78,14.09],[3.85,15.46]],
    [[3.51,16.91],[3.22,17.99],[2.42,18.65],[1.33,18.71],[.24,18.16],[-.56,17.14],[-.85,15.93],[-.56,14.85],[.24,14.19],[1.33,14.13],[2.42,14.68],[3.22,15.7]],
    [[2.63,16.71],[2.45,17.36],[1.97,17.76],[1.31,17.8],[.65,17.47],[.17,16.86],[-.01,16.13],[.17,15.48],[.65,15.08],[1.31,15.04],[1.97,15.37],[2.45,15.98]],
    [[12.31,12.63],[11.73,15.22],[10.14,17.96],[7.97,20.11],[5.8,21.1],[4.21,20.67],[3.63,18.93],[4.21,16.34],[5.8,13.6],[7.97,11.45],[10.14,10.46],[11.73,10.89]],
    [[11.13,13.53],[10.71,15.39],[9.55,17.36],[7.97,18.9],[6.39,19.62],[5.23,19.31],[4.81,18.05],[5.23,16.19],[6.39,14.22],[7.97,12.68],[9.55,11.96],[10.71,12.27]],
    [[9.76,14.49],[9.52,15.56],[8.86,16.69],[7.96,17.58],[7.06,17.99],[6.4,17.81],[6.16,17.09],[6.4,16.02],[7.06,14.89],[7.96,14],[8.86,13.59],[9.52,13.77]],
    [[16.54,1.99],[16.33,2.89],[15.74,3.58],[14.94,3.85],[14.14,3.64],[13.55,3],[13.34,2.11],[13.55,1.21],[14.14,.52],[14.94,.25],[15.74,.46],[16.33,1.1]],
    [[16.16,2.02],[16,2.72],[15.55,3.24],[14.94,3.45],[14.33,3.29],[13.88,2.8],[13.72,2.12],[13.88,1.42],[14.33,.9],[14.94,.69],[15.55,.85],[16,1.34]],
    [[15.71,2.03],[15.61,2.47],[15.33,2.81],[14.94,2.94],[14.55,2.84],[14.27,2.53],[14.17,2.09],[14.27,1.65],[14.55,1.31],[14.94,1.18],[15.33,1.28],[15.61,1.59]]
];

const rightContours = [
    [[8.95,16.17],[8.6,17.82],[7.65,18.91],[6.35,19.14],[5.05,18.46],[4.1,17.04],[3.75,15.27],[4.1,13.62],[5.05,12.53],[6.35,12.3],[7.65,12.98],[8.6,14.4]],
    [[8.23,16.06],[7.98,17.29],[7.29,18.1],[6.35,18.27],[5.41,17.76],[4.72,16.71],[4.47,15.4],[4.72,14.17],[5.41,13.36],[6.35,13.19],[7.29,13.7],[7.98,14.75]],
    [[7.47,15.91],[7.32,16.62],[6.91,17.1],[6.35,17.2],[5.79,16.9],[5.38,16.28],[5.23,15.51],[5.38,14.8],[5.79,14.32],[6.35,14.22],[6.91,14.52],[7.32,15.14]],
    [[10.66,16.08],[10.4,17.34],[9.71,18.19],[8.75,18.42],[7.79,17.96],[7.1,16.95],[6.84,15.64],[7.1,14.38],[7.79,13.53],[8.75,13.3],[9.71,13.76],[10.4,14.77]],
    [[10.2,16.03],[10.01,17],[9.48,17.65],[8.75,17.83],[8.02,17.48],[7.49,16.7],[7.3,15.69],[7.49,14.72],[8.02,14.07],[8.75,13.89],[9.48,14.24],[10.01,15.02]],
    [[9.67,15.97],[9.54,16.57],[9.21,16.98],[8.75,17.1],[8.29,16.88],[7.96,16.38],[7.83,15.75],[7.96,15.15],[8.29,14.74],[8.75,14.62],[9.21,14.84],[9.54,15.34]],
    [[16.96,11.66],[16.66,12.55],[15.85,13.31],[14.74,13.74],[13.63,13.72],[12.82,13.25],[12.52,12.46],[12.82,11.57],[13.63,10.81],[14.74,10.38],[15.85,10.4],[16.66,10.87]],
    [[16.43,11.73],[16.2,12.41],[15.59,12.99],[14.74,13.31],[13.89,13.3],[13.28,12.94],[13.05,12.35],[13.28,11.67],[13.89,11.09],[14.74,10.77],[15.59,10.78],[16.2,11.14]],
    [[15.81,11.84],[15.67,12.26],[15.28,12.62],[14.74,12.83],[14.2,12.82],[13.81,12.59],[13.67,12.22],[13.81,11.8],[14.2,11.44],[14.74,11.23],[15.28,11.24],[15.67,11.47]]
];

const PURPLE = '#440154';
const TEAL = '#21918c';
const YELLOW = '#fde725';
const RED = '#ff0000';

function toXY(points) {
    return points.map(p => ({ x: p[0], y: p[1] }));
}

function dotSet(points, color) {
    return {
        data: toXY(points),
        backgroundColor: color,
        pointRadius: 7.5,
        pointBorderWidth: 0,
        clip: 0
    };
}

function contourLine(points) {
    // extra point at each end gives the right bend, those two end pieces stay hidden
    const looped = [points[points.length - 1], ...points, points[0], points[1]];
    return {
        data: toXY(looped),
        showLine: true,
        borderColor: RED,
        borderWidth: 8.5,
        tension: 0.35,
        pointRadius: 0,
        fill: false,
        clip: 0,
        segment: {
            borderColor: ctx => (ctx.p0DataIndex === 0 || ctx.p1DataIndex === looped.length - 1 ? 'transparent' : RED)
        }
    };
}

// Black box round the plot area, on top of the dots
const frameBox = {
    id: 'frameBox',
    afterDraw(chart) {
        const { ctx, chartArea: a } = chart;
        ctx.save();
        ctx.strokeStyle = '#000000';
        ctx.lineWidth = 3;
        ctx.strokeRect(a.left, a.top, a.right - a.left, a.bottom - a.top);
        ctx.restore();
    }
};

function axisOptions(min, max, tickValues) {
    return {
        type: 'linear',
        min: min,
        max: max,
        afterBuildTicks: scale => { scale.ticks = tickValues.map(v => ({ value: v })); },
        border: { display: true, color: '#000000', width: 3 },
        grid: { drawOnChartArea: false, drawTicks: true, tickLength: 14, tickWidth: 3, tickColor: '#000000' },
        ticks: {
            color: '#000000',
            maxRotation: 0,
            autoSkip: false,
            padding: 12,
            font: { family: '"DejaVu Sans"', size: 38 },
            callback: v => (v < 0 ? '\u2212' + Math.abs(v) : String(v))
        }
    };
}

function createPanel(canvasId, box, layers) {
    const canvas = document.getElementById(canvasId);
    const xAxis = axisOptions(-6, 23, xTicks);
    const yAxis = axisOptions(-6, 26, yTicks);
    xAxis.afterFit = scale => { scale.height = canvas.height - box.bottom; };
    yAxis.afterFit = scale => { scale.width = box.left; };

    new Chart(canvas, {
        type: 'scatter',
        // Chart.js paints the first dataset last, layers come bottom to top
        data: { datasets: layers.slice().reverse() },
        options: {
            responsive: false,
            animation: false,
            devicePixelRatio: 1,
            layout: { padding: { top: box.top, right: canvas.width - box.right, bottom: 0, left: 0 } },
            plugins: { legend: { display: false }, tooltip: { enabled: false } },
            scales: { x: xAxis, y: yAxis }
        },
        plugins: [frameBox]
    });
}

createPanel('leftChart', { left: 108.7, right: 1510.7, top: 44, bottom: 1086.5 }, [
    dotSet([...leftPurple, ...leftPurpleDense], PURPLE),
    dotSet([...leftTeal, ...leftTealDense], TEAL),
    dotSet([...leftYellow, ...leftYellowDense], YELLOW),
    ...leftContours.map(contourLine)
]);

createPanel('rightChart', { left: 115, right: 1525.6, top: 37, bottom: 1086 }, [
    dotSet(rightPurpleUnder, PURPLE),
    dotSet(rightYellowUnder, YELLOW),
    dotSet([...rightTeal, ...rightTealDense], TEAL),
    dotSet([...rightYellow, ...rightYellowDense], YELLOW),
    dotSet([...rightPurple, ...rightPurpleDense], PURPLE),
    ...rightContours.map(contourLine)
]);
</script>
</body>
</html>
